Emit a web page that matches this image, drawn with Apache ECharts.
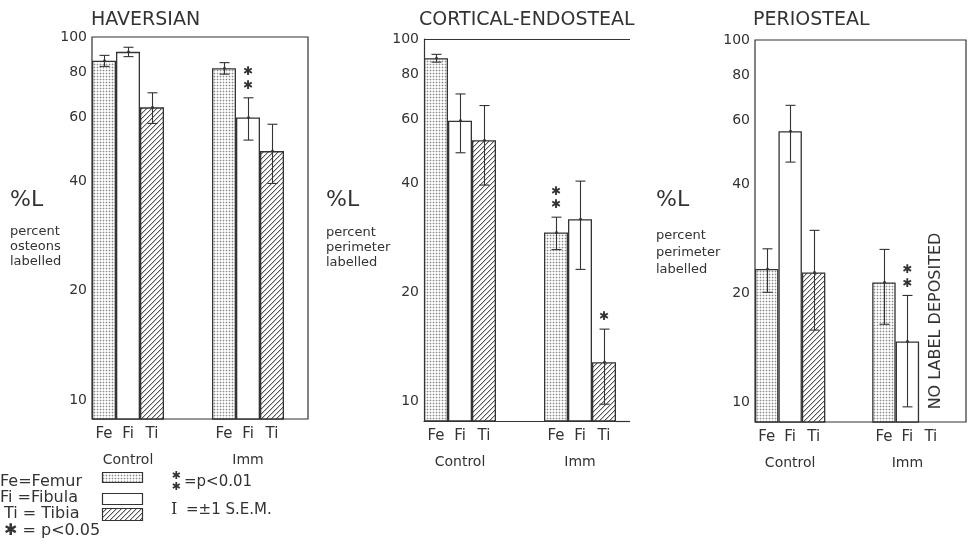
<!DOCTYPE html>
<html><head><meta charset="utf-8">
<script src="https://cdn.jsdelivr.net/npm/echarts@6/dist/echarts.min.js"></script>
<style>html,body{margin:0;padding:0;background:#fff}#c{width:968px;height:548px}</style>
</head><body><div id="c"></div>
<script>
// ---------- DATA ----------
const panelTitles = ['HAVERSIAN', 'CORTICAL-ENDOSTEAL', 'PERIOSTEAL'];
const yNames = ['percent\nosteons\nlabelled', 'percent\nperimeter\nlabelled', 'percent\nperimeter\nlabelled'];
const groupNames = ['Control', 'Imm'];
const yTicks = [10, 20, 40, 60, 80, 100];

// category slots (empty strings are gaps between groups)
const havCats  = ['Fe', 'Fi', 'Ti', '', '', 'Fe', 'Fi', 'Ti', ''];
const cortCats = ['Fe', 'Fi', 'Ti', '', '', 'Fe', 'Fi', 'Ti'];
const periCats = ['Fe', 'Fi', 'Ti', '', '', 'Fe', 'Fi', 'Ti', ''];

// %L means
const havValues  = [86, 91, 64, null, null, 82, 60, 48.5, null];
const cortValues = [88.5, 59.5, 52.5, null, null, 29.2, 31.8, 12.8];
const periValues = [23.3, 56, 22.8, null, null, 21.4, 14.7, null, null];

// ±1 S.E.M.
const havErrors  = [3, 2.7, 6.2, null, null, 3, 8, 9, null];
const cortErrors = [2.2, 11, 13, null, null, 3, 8.7, 3];
const periErrors = [3.2, 10, 7, null, null, 5, 5, null, null];

// number of asterisks (1 = p<0.05, 2 = p<0.01)
const havSig  = [0, 0, 0, 0, 0, 0, 2, 0, 0];
const cortSig = [0, 0, 0, 0, 0, 2, 0, 1];
const periSig = [0, 0, 0, 0, 0, 0, 2, 0, 0];

// ---------- STYLE ----------
const FONT = '"DejaVu Sans", sans-serif';
const INK = '#333';

function makeStipple() {
  const c = document.createElement('canvas'); c.width = 3; c.height = 3;
  const g = c.getContext('2d');
  g.fillStyle = '#ffffff'; g.fillRect(0, 0, 3, 3);
  g.fillStyle = '#dcdcdc'; g.fillRect(0, 1, 3, 1); g.fillRect(1, 0, 1, 3);
  g.fillStyle = '#8a8a8a'; g.fillRect(1, 1, 1, 1);
  return c;
}
function makeHatch() {
  const n = 5;
  const c = document.createElement('canvas'); c.width = n; c.height = n;
  const g = c.getContext('2d');
  g.fillStyle = '#ffffff'; g.fillRect(0, 0, n, n);
  for (let i = 0; i < n; i++) {
    g.fillStyle = '#555555'; g.fillRect(i, n - 1 - i, 1, 1);
    g.fillStyle = '#c4c4c4'; g.fillRect((i + 1) % n, n - 1 - i, 1, 1);
  }
  return c;
}
const fills = {
  Fe: { image: makeStipple(), repeat: 'repeat' },
  Fi: '#ffffff',
  Ti: { image: makeHatch(), repeat: 'repeat' }
};

const panels = [
  { cats: havCats, values: havValues, errors: havErrors, sig: havSig,
    grid: { left: 92, top: 37, width: 216, height: 382 }, min: 8.867, box: true },
  { cats: cortCats, values: cortValues, errors: cortErrors, sig: cortSig,
    grid: { left: 424, top: 39, width: 192, height: 382 }, min: 8.808, box: false },
  { cats: periCats, values: periValues, errors: periErrors, sig: periSig,
    grid: { left: 755, top: 40, width: 211, height: 382 }, min: 8.808, box: true }
];

function renderErr(params, api) {
  const i = api.value(0), v = api.value(1), e = api.value(2);
  const t = api.coord([i, v + e]), b = api.coord([i, v - e]), m = api.coord([i, v]);
  const x = Math.round(t[0]) + 0.5, hw = 5;
  const st = { stroke: INK, lineWidth: 1.1 };
  return { type: 'group', children: [
    { type: 'line', shape: { x1: x, y1: t[1], x2: x, y2: b[1] }, style: st },
    { type: 'line', shape: { x1: x - hw, y1: t[1], x2: x + hw, y2: t[1] }, style: st },
    { type: 'line', shape: { x1: x - hw, y1: b[1], x2: x + hw, y2: b[1] }, style: st },
    { type: 'circle', shape: { cx: x, cy: m[1], r: 1.4 }, style: { fill: INK } }
  ]};
}
function renderSig(params, api) {
  const i = api.value(0), v = api.value(1), e = api.value(2), n = api.value(3);
  const t = api.coord([i, v + e]);
  const kids = [];
  for (let k = 0; k < n; k++) {
    kids.push({ type: 'text', style: {
      text: '\u2731', x: t[0], y: t[1] - 12 - k * 13.5, align: 'center', verticalAlign: 'middle',
      fontSize: 12, fontFamily: FONT, fill: INK } });
  }
  return { type: 'group', children: kids };
}

const grids = [], xAxes = [], yAxes = [], series = [];
panels.forEach((p, pi) => {
  grids.push(Object.assign({ show: p.box, borderColor: INK, borderWidth: 1.2, backgroundColor: 'transparent', containLabel: false }, p.grid));
  xAxes.push({
    type: 'category', gridIndex: pi, data: p.cats, boundaryGap: true,
    axisLine: { show: !p.box, lineStyle: { color: INK, width: 1.2 } },
    axisTick: { show: false },
    axisLabel: {
      interval: 0, margin: 5, color: INK,
      formatter: (val, idx) => {
        if (!val) return '';
        let s = '{a|' + val + '}';
        if (val === 'Fi') s += '\n{g|' + groupNames[idx < 4 ? 0 : 1] + '}';
        return s;
      },
      rich: {
        a: { fontSize: 15, fontFamily: FONT, color: INK, lineHeight: 20 },
        g: { fontSize: 14, fontFamily: FONT, color: INK, lineHeight: 32 }
      }
    }
  });
  yAxes.push({
    type: 'log', logBase: 10, gridIndex: pi, min: p.min, max: 100,
    axisLine: { show: !p.box, lineStyle: { color: INK, width: 1.2 } },
    axisTick: { show: false },
    splitLine: { show: false },
    axisLabel: { customValues: yTicks, formatter: v => String(Math.round(v)), fontSize: 14, fontFamily: FONT, color: INK, margin: 5 }
  });
  series.push({
    type: 'bar', xAxisIndex: pi, yAxisIndex: pi, barWidth: '100%', barCategoryGap: '0%', clip: true,
    itemStyle: { borderColor: INK, borderWidth: 1.3 },
    emphasis: { disabled: true },
    data: p.values.map((v, j) => v == null ? '-' : { value: v, itemStyle: { color: fills[p.cats[j]] } })
  });
  const errData = [];
  p.values.forEach((v, j) => { if (v != null) errData.push([j, v, p.errors[j], p.sig[j]]); });
  series.push({
    type: 'custom', xAxisIndex: pi, yAxisIndex: pi, renderItem: renderErr, z: 5,
    encode: { x: 0, y: 1 }, data: errData, silent: true
  });
  series.push({
    type: 'custom', xAxisIndex: pi, yAxisIndex: pi, renderItem: renderSig, z: 5,
    encode: { x: 0, y: 1 }, data: errData.filter(d => d[3] > 0), silent: true
  });
});

const titleX = [91, 419, 753];
const yNameX = [10, 326, 656];
const yNameTop = [224, 225, 227];
const yNameLH = [15, 15, 17];

const graphic = [];
panels.forEach((p, pi) => {
  graphic.push({ type: 'text', x: yNameX[pi], y: 200, style: { text: '%L', font: '22px ' + FONT, fill: INK, align: 'left', verticalAlign: 'middle' } });
  graphic.push({ type: 'text', x: yNameX[pi], y: yNameTop[pi], style: { text: yNames[pi], font: '13px ' + FONT, lineHeight: yNameLH[pi], fill: INK, align: 'left', verticalAlign: 'top' } });
});
// open right side of cortical panel: top line and extended base line
graphic.push({ type: 'line', shape: { x1: 424, y1: 39.5, x2: 630, y2: 39.5 }, style: { stroke: INK, lineWidth: 1.2 } });
graphic.push({ type: 'line', shape: { x1: 616, y1: 421.5, x2: 630, y2: 421.5 }, style: { stroke: INK, lineWidth: 1.2 } });
// periosteal note
graphic.push({ type: 'text', x: 936, y: 321, rotation: Math.PI / 2,
  style: { text: 'NO LABEL DEPOSITED', font: '16px ' + FONT, fill: INK, align: 'center', verticalAlign: 'middle' } });
// key
const keyFont = '16px ' + FONT;
graphic.push({ type: 'text', x: 0, y: 482, style: { text: 'Fe=Femur', font: keyFont, fill: INK, verticalAlign: 'middle' } });
graphic.push({ type: 'text', x: 0, y: 498, style: { text: 'Fi =Fibula', font: keyFont, fill: INK, verticalAlign: 'middle' } });
graphic.push({ type: 'text', x: 4, y: 514, style: { text: 'Ti = Tibia', font: keyFont, fill: INK, verticalAlign: 'middle' } });
graphic.push({ type: 'text', x: 4, y: 531, style: { text: '\u2731 = p<0.05', font: keyFont, fill: INK, verticalAlign: 'middle' } });
graphic.push({ type: 'rect', shape: { x: 102.5, y: 472.5, width: 40, height: 10 }, style: { fill: fills.Fe, stroke: INK, lineWidth: 1.2 } });
graphic.push({ type: 'rect', shape: { x: 102.5, y: 493.5, width: 40, height: 11 }, style: { fill: fills.Fi, stroke: INK, lineWidth: 1.2 } });
graphic.push({ type: 'rect', shape: { x: 102.5, y: 508.5, width: 40, height: 12 }, style: { fill: fills.Ti, stroke: INK, lineWidth: 1.2 } });
graphic.push({ type: 'text', x: 176, y: 476, style: { text: '\u2731', font: '11px ' + FONT, fill: INK, align: 'center', verticalAlign: 'middle' } });
graphic.push({ type: 'text', x: 176, y: 487, style: { text: '\u2731', font: '11px ' + FONT, fill: INK, align: 'center', verticalAlign: 'middle' } });
graphic.push({ type: 'text', x: 184, y: 482, style: { text: '=p<0.01', font: '15px ' + FONT, fill: INK, verticalAlign: 'middle' } });
graphic.push({ type: 'text', x: 171, y: 510, style: { text: 'I', font: '16px "DejaVu Serif", serif', fill: INK, verticalAlign: 'middle' } });
graphic.push({ type: 'text', x: 186, y: 510, style: { text: '=\u00b11 S.E.M.', font: '15px ' + FONT, fill: INK, verticalAlign: 'middle' } });

const chart = echarts.init(document.getElementById('c'));
chart.setOption({
  animation: false,
  backgroundColor: '#ffffff',
  title: panelTitles.map((t, i) => ({ text: t, left: titleX[i], top: 11, padding: 0,
    textStyle: { fontSize: 19, fontWeight: 'normal', fontFamily: FONT, color: INK } })),
  grid: grids, xAxis: xAxes, yAxis: yAxes, series: series, graphic: graphic
});
</script>
</body></html>
